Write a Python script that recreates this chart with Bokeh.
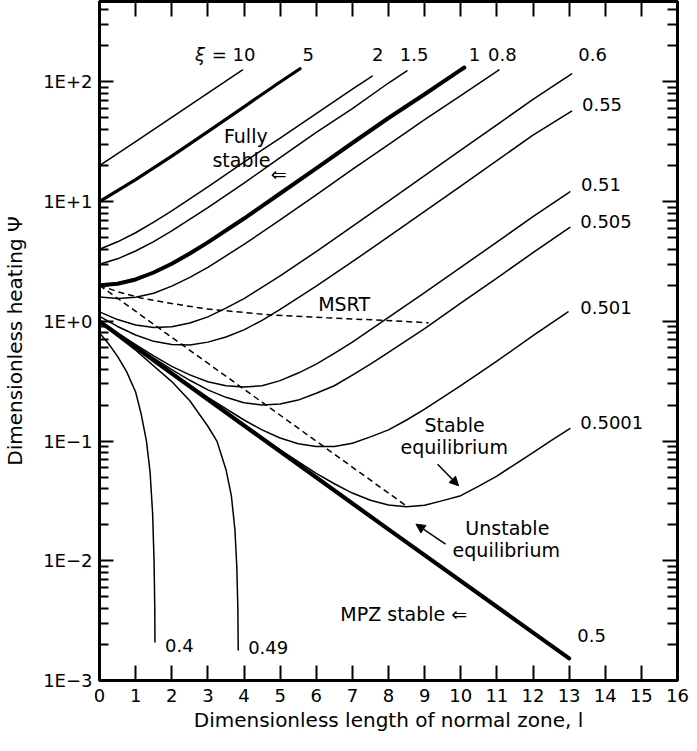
from bokeh.plotting import figure
from bokeh.models import Range1d, LogAxis, LinearAxis, FixedTicker, Label, Arrow, NormalHead
from bokeh.embed import file_html
from bokeh.resources import INLINE

# ---------------- data ----------------
l_xi10 = [0, 1, 2, 3, 3.96]
psi_xi10 = [20, 31.8, 50.7, 80.6, 126]

l_xi5 = [0, 1, 2, 3, 4, 5, 5.55]
psi_xi5 = [10, 15.3, 24.0, 38.5, 62, 100, 129]

l_xi2 = [0, 0.5, 1, 1.5, 2, 3, 4, 5, 6, 7, 7.55]
psi_xi2 = [4.0, 4.62, 5.5, 6.75, 8.36, 13.3, 21.4, 34, 54.5, 87, 112]

l_xi15 = [0, 0.5, 1, 1.5, 2, 3, 4, 5, 6, 7, 8, 8.51]
psi_xi15 = [3.0, 3.33, 3.87, 4.64, 5.70, 8.92, 14.3, 23.3, 37.9, 60, 98, 124]

l_xi1 = [0, 0.5, 1, 1.5, 2, 2.5, 3, 4, 5, 6, 7, 8, 9, 10, 10.1]
psi_xi1 = [2.0, 2.06, 2.24, 2.56, 3.03, 3.69, 4.57, 7.23, 11.7, 19.0, 30.9, 50, 79, 126, 132]

l_xi08 = [0, 0.5, 1, 1.5, 2, 2.5, 3, 4, 5, 6, 7, 8, 9, 10, 11.06]
psi_xi08 = [1.6, 1.55, 1.59, 1.72, 1.97, 2.33, 2.83, 4.39, 7.04, 11.4, 18.6, 30, 48.5, 77, 126]

l_xi06 = [0, 0.5, 1, 1.5, 2, 2.5, 3, 3.5, 4, 5, 6, 7, 8, 9, 10, 11, 12, 13.07]
psi_xi06 = [1.2, 1.035, 0.933, 0.889, 0.901, 0.968, 1.09, 1.29, 1.55, 2.40, 3.83, 6.21, 10.1, 16.5, 26.9, 43.8, 71.6, 117]

l_xi055 = [0, 0.5, 1, 1.5, 2, 2.5, 3, 3.5, 4, 4.5, 5, 6, 7, 8, 9, 10, 11, 12, 13.07]
psi_xi055 = [1.1, 0.907, 0.770, 0.681, 0.640, 0.636, 0.671, 0.74, 0.85, 1.02, 1.26, 1.97, 3.15, 5.1, 8.3, 13.5, 22, 36, 57]

l_xi051 = [0, 0.5, 1, 1.5, 2, 2.5, 3, 3.5, 4, 4.5, 5, 5.5, 6, 6.5, 7, 8, 9, 10, 11, 12, 13.02]
psi_xi051 = [1.02, 0.80, 0.640, 0.514, 0.421, 0.357, 0.313, 0.29, 0.283, 0.29, 0.32, 0.37, 0.44, 0.54, 0.67, 1.08, 1.74, 2.82, 4.6, 7.5, 12.1]

l_xi0505 = [0, 0.5, 1, 1.5, 2, 2.5, 3, 3.5, 4, 4.5, 5, 5.5, 6, 6.5, 7, 7.5, 8, 9, 10, 11, 12, 13.02]
psi_xi0505 = [1.01, 0.792, 0.624, 0.493, 0.395, 0.322, 0.268, 0.232, 0.209, 0.200, 0.204, 0.220, 0.251, 0.29, 0.355, 0.44, 0.55, 0.87, 1.42, 2.3, 3.75, 6.1]

l_xi0501 = [0, 1, 2, 3, 4, 4.5, 5, 5.5, 6, 6.5, 7, 7.5, 8, 8.5, 9, 9.5, 10, 11, 12, 12.97]
psi_xi0501 = [1.002, 0.61, 0.373, 0.232, 0.150, 0.124, 0.106, 0.095, 0.090, 0.090, 0.096, 0.1085, 0.124, 0.15, 0.185, 0.232, 0.29, 0.465, 0.76, 1.2]

l_xi05001 = [0, 1, 2, 3, 4, 5, 6, 6.5, 7, 7.5, 8, 8.5, 9, 9.5, 10, 10.5, 11, 11.5, 12, 12.5, 13.02]
psi_xi05001 = [1.0, 0.607, 0.368, 0.224, 0.136, 0.0845, 0.0538, 0.0440, 0.0368, 0.032, 0.0292, 0.0283, 0.0291, 0.0318, 0.035, 0.042, 0.051, 0.064, 0.080, 0.101, 0.127]

l_xi05 = [0, 4, 8, 13]
psi_xi05 = [1.0, 0.135, 0.0183, 0.00153]

l_xi049 = [0, 1, 2, 2.5, 3, 3.25, 3.5, 3.65, 3.75, 3.8, 3.83, 3.84]
psi_xi049 = [0.98, 0.574, 0.314, 0.217, 0.133, 0.10, 0.058, 0.035, 0.018, 0.009, 0.004, 0.0018]

l_xi04 = [0, 0.25, 0.5, 0.75, 1.0, 1.15, 1.3, 1.4, 1.47, 1.51, 1.53, 1.535]
psi_xi04 = [0.8, 0.65, 0.51, 0.38, 0.257, 0.17, 0.10, 0.055, 0.025, 0.01, 0.004, 0.0021]

l_msrt = [0, 0.5, 1.14, 2, 2.96, 4.69, 6.3, 7.88, 9.11]
psi_msrt = [2.0, 1.77, 1.57, 1.41, 1.27, 1.135, 1.07, 1.02, 0.973]

l_unstable = [0, 8.51]
psi_unstable = [2.0, 0.0285]

x_ticks = list(range(0, 17))
y_ticks = [1e-3, 1e-2, 1e-1, 1e0, 1e1, 1e2]
y_tick_labels = ["1E\u22123", "1E\u22122", "1E\u22121", "1E+0", "1E+1", "1E+2"]
y_minor = [m * d for d in [1e-3, 1e-2, 1e-1, 1e0, 1e1, 1e2] for m in range(2, 10)]

FONT = "DejaVu Sans"

p = figure(width=689, height=735, x_range=Range1d(0, 16), y_range=Range1d(1e-3, 470),
           y_axis_type="log", output_backend="svg", toolbar_location=None,
           min_border_left=92, min_border_right=12, min_border_top=1, min_border_bottom=55)
p.grid.visible = False
p.outline_line_color = "black"
p.outline_line_width = 3
p.background_fill_color = "white"
p.border_fill_color = "white"


def style_axis(ax, major_in, minor_in):
    ax.major_tick_in = major_in
    ax.major_tick_out = 0
    ax.minor_tick_in = minor_in
    ax.minor_tick_out = 0
    ax.major_tick_line_width = 2
    ax.minor_tick_line_width = 2
    ax.major_tick_line_color = "black"
    ax.minor_tick_line_color = "black"
    ax.axis_line_width = 3
    ax.axis_line_color = "black"


def hide_labels(ax):
    ax.major_label_text_font_size = "1px"
    ax.major_label_text_color = None
    ax.major_label_standoff = 0


# left axis
ya = p.yaxis[0]
ya.ticker = FixedTicker(ticks=y_ticks, minor_ticks=y_minor)
ya.major_label_overrides = dict(zip(y_ticks, y_tick_labels))
style_axis(ya, 14, 9)
ya.major_label_text_font = FONT
ya.major_label_text_font_size = "18px"
ya.major_label_text_color = "black"
ya.major_label_standoff = 7
ya.axis_label = "Dimensionless heating \u03a8"
ya.axis_label_text_font = FONT
ya.axis_label_text_font_size = "20px"
ya.axis_label_text_font_style = "normal"
ya.axis_label_text_color = "black"
ya.axis_label_standoff = 13

# bottom axis
xa = p.xaxis[0]
xa.ticker = FixedTicker(ticks=x_ticks)
style_axis(xa, 15, 0)
xa.minor_tick_line_color = None
xa.major_label_text_font = FONT
xa.major_label_text_font_size = "18px"
xa.major_label_text_color = "black"
xa.major_label_standoff = 8
xa.axis_label = "Dimensionless length of normal zone, l"
xa.axis_label_text_font = FONT
xa.axis_label_text_font_size = "20px"
xa.axis_label_text_font_style = "normal"
xa.axis_label_text_color = "black"
xa.axis_label_standoff = 3

# right axis (ticks only)
ra = LogAxis(ticker=FixedTicker(ticks=y_ticks, minor_ticks=y_minor))
style_axis(ra, 15, 10)
hide_labels(ra)
p.add_layout(ra, "right")

# top axis (ticks only)
ta = LinearAxis(ticker=FixedTicker(ticks=x_ticks))
style_axis(ta, 15, 0)
ta.minor_tick_line_color = None
hide_labels(ta)
p.add_layout(ta, "above")

# ---------------- curves ----------------
curves = [
    (l_xi10, psi_xi10, 1.5), (l_xi5, psi_xi5, 3.2), (l_xi2, psi_xi2, 1.5),
    (l_xi15, psi_xi15, 1.5), (l_xi1, psi_xi1, 4.0), (l_xi08, psi_xi08, 1.5),
    (l_xi06, psi_xi06, 1.5), (l_xi055, psi_xi055, 1.5), (l_xi051, psi_xi051, 1.5),
    (l_xi0505, psi_xi0505, 1.5), (l_xi0501, psi_xi0501, 1.5), (l_xi05001, psi_xi05001, 1.5),
    (l_xi05, psi_xi05, 4.2), (l_xi049, psi_xi049, 1.5), (l_xi04, psi_xi04, 1.5),
]
for xs, ys, w in curves:
    p.line(xs, ys, line_color="black", line_width=w, line_join="round", line_cap="round")

p.line(l_msrt, psi_msrt, line_color="black", line_width=1.5, line_dash="6 4")
p.line(l_unstable, psi_unstable, line_color="black", line_width=1.5, line_dash="6 4")

# ---------------- annotations ----------------
def lab(x, y, t, size="18px", align="center", style="normal"):
    p.add_layout(Label(x=x, y=y, text=t, text_font=FONT, text_font_size=size,
                       text_align=align, text_baseline="middle", text_color="black",
                       text_font_style=style))

top_y = 170
lab(2.785, top_y, "\u03be", style="italic")
lab(3.71, top_y, "= 10")
for t, x in [("5", 5.775), ("2", 7.70), ("1.5", 8.71), ("1", 10.38), ("0.8", 11.15), ("0.6", 13.65)]:
    lab(x, top_y, t)
lab(13.91, 65.2, "0.55")
lab(13.88, 14.0, "0.51")
lab(14.02, 6.84, "0.505")
lab(14.02, 1.31, "0.501")
lab(14.18, 0.143, "0.5001")
lab(13.62, 0.00238, "0.5")
lab(2.21, 0.00196, "0.4")
lab(4.67, 0.00189, "0.49")

lab(10.18, 0.00356, "MPZ stable \u21d0", size="19px", align="right")
lab(9.83, 0.135, "Stable", size="19px")
lab(9.82, 0.0885, "equilibrium", size="19px")
lab(11.29, 0.01897, "Unstable", size="19px")
lab(11.26, 0.0124, "equilibrium", size="19px")
lab(6.77, 1.392, "MSRT", size="19px")
lab(4.05, 35.7, "Fully", size="19px")
lab(3.93, 22.5, "stable", size="19px")
lab(4.96, 16.9, "\u21d0", size="19px")

p.add_layout(Arrow(end=NormalHead(size=9, fill_color="black", line_color="black"),
                   x_start=9.36, y_start=0.0641, x_end=9.94, y_end=0.0423,
                   line_color="black", line_width=1.5))
p.add_layout(Arrow(end=NormalHead(size=9, fill_color="black", line_color="black"),
                   x_start=9.58, y_start=0.01377, x_end=8.76, y_end=0.02023,
                   line_color="black", line_width=1.5))

open("out.html", "w").write(file_html(p, INLINE))
